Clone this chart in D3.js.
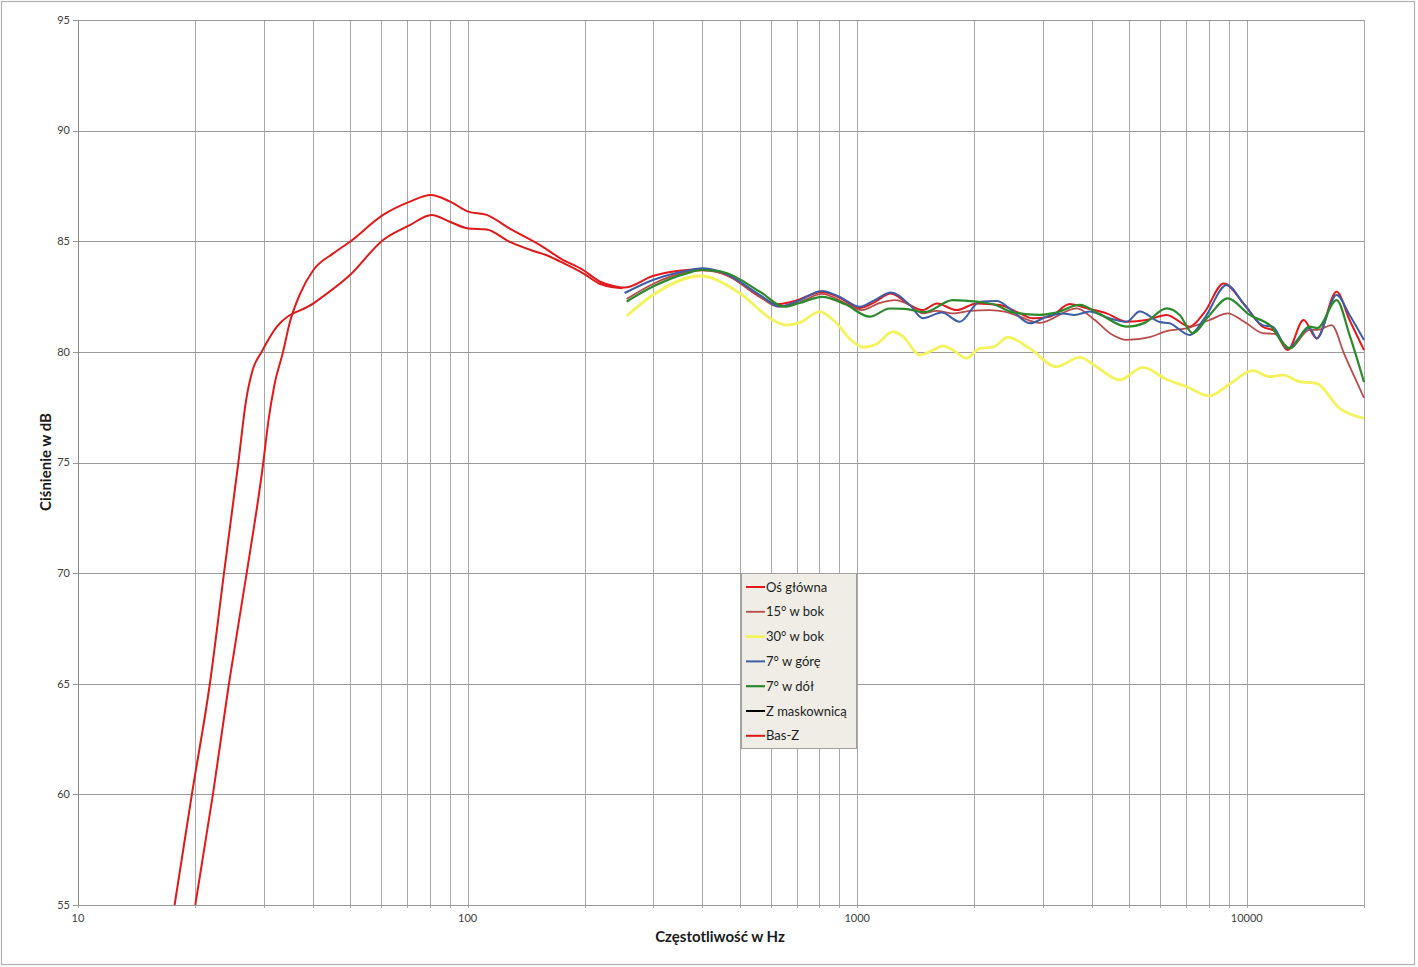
<!DOCTYPE html>
<html>
<head>
<meta charset="utf-8">
<script src="https://cdn.jsdelivr.net/npm/d3@7"></script>
<style>
  html, body { margin: 0; padding: 0; background: #fff; }
  text { font-family: Lato, "Open Sans", "DejaVu Sans", sans-serif; }
</style>
</head>
<body>
<script>
// ---------- DATA (frequency in Hz, level in dB) ----------
const xTickLabels = [10, 100, 1000, 10000];
const yTickLabels = [55, 60, 65, 70, 75, 80, 85, 90, 95];

const osGlowna = [
  [20.0,55],[22.2,60],[24.4,65],[27.1,70],[29.9,75],[30.8,76.86],[31.9,78.47],[33.6,80],
  [35.0,81.36],[37.2,82.64],[40.2,83.7],[45.2,84.45],[49.9,84.98],[60.7,86.19],[71.1,86.79],
  [80.4,87.09],[90.2,86.79],[100.4,86.34],[112,86.19],[128,85.58],[156,84.75],[173,84.23],
  [198,83.7],[219,83.17],[237,82.98],[253,82.91],
  [299,83.43],[365,83.70],[399,83.73],[471,83.40],[563,82.49],[626,82.16],[692,82.30],
  [812,82.71],[903,82.44],[1015,81.98],[1110,82.25],[1220,82.64],[1365,82.12],[1474,81.89],
  [1601,82.19],[1801,81.89],[2027,82.19],[2323,82.12],[2614,81.74],[2822,81.52],[3120,81.59],
  [3512,82.16],[3884,81.97],[4370,81.74],[4918,81.36],[5536,81.44],[6230,81.67],[7137,81.14],
  [7798,81.80],[8726,83.09],[9876,82.12],[10985,81.14],[11793,80.94],[12736,80.08],
  [13996,81.44],[15115,80.61],[17009,82.72],[18365,81.44],[20000,80.08]
];

const w15 = [
  [256,82.39],[299,83.07],[365,83.61],[399,83.68],[450,83.56],[563,82.48],[626,82.05],
  [712,82.25],[812,82.62],[930,82.21],[1027,81.89],[1143,82.21],[1249,82.34],[1365,82.12],
  [1474,81.74],[1601,81.85],[1759,81.74],[1945,81.85],[2189,81.89],[2393,81.82],[2614,81.59],
  [2942,81.31],[3660,81.97],[4072,81.44],[4529,80.76],[4918,80.54],[5634,80.67],[6230,80.94],
  [7137,81.10],[8031,81.44],[8934,81.74],[9876,81.35],[10985,80.85],[11793,80.81],
  [12889,80.16],[14501,80.99],[15203,80.99],[16513,81.21],[17832,79.86],[20000,77.92]
];

const w30 = [
  [256,81.62],[299,82.57],[395,83.43],[500,82.65],[608,81.44],[659,81.21],[712,81.32],
  [802,81.82],[868,81.44],[976,80.46],[1035,80.21],[1121,80.36],[1236,80.91],[1312,80.69],
  [1447,79.86],[1565,80.08],[1661,80.27],[1762,80.08],[1908,79.71],[2064,80.16],[2232,80.21],
  [2439,80.66],[2773,80.16],[3246,79.33],[3726,79.75],[4113,79.33],[4719,78.73],[5415,79.30],
  [6219,78.76],[6998,78.43],[8031,78.01],[9040,78.55],[10373,79.15],[11450,78.88],
  [12385,78.95],[13668,78.65],[15083,78.58],[17311,77.45],[20000,77.00]
];

const gora7 = [
  [253,82.66],[299,83.25],[365,83.67],[399,83.78],[450,83.61],[563,82.57],[633,82.05],
  [712,82.34],[812,82.75],[903,82.48],[1015,82.04],[1110,82.34],[1220,82.68],[1365,82.12],
  [1474,81.52],[1649,81.78],[1834,81.36],[2064,82.27],[2281,82.30],[2493,81.89],[2773,81.29],
  [3066,81.59],[3370,81.74],[3618,81.67],[3954,81.82],[4320,81.59],[4918,81.36],[5312,81.82],
  [5977,81.35],[6342,81.29],[7137,80.76],[7798,81.53],[8882,83.02],[9876,82.12],[10985,81.21],
  [11655,81.14],[12736,80.16],[14501,81.08],[15115,80.61],[17009,82.57],[18365,81.67],[20000,80.54]
];

const dol7 = [
  [256,82.27],[299,82.95],[365,83.55],[399,83.70],[450,83.62],[563,82.72],[652,82.04],
  [712,82.21],[812,82.49],[930,82.16],[1077,81.59],[1212,81.96],[1325,81.94],[1491,81.80],
  [1759,82.34],[2027,82.27],[2268,82.12],[2493,81.80],[2942,81.67],[3214,81.76],[3726,82.12],
  [4194,81.71],[4918,81.14],[5470,81.31],[6230,81.97],[6728,81.67],[7265,80.85],[8031,81.67],
  [8934,82.42],[10171,81.67],[11450,81.21],[12889,80.16],[14501,81.14],[15203,81.08],
  [17009,82.34],[18365,80.76],[20000,78.64]
];

const zMaskownica = [];

const basZ = [
  [17.7,55],[19.6,60],[21.8,65],[23.7,70],[25.8,75],[27.0,77.8],[28.1,79.2],[29.6,80],
  [32.4,81.14],[40.2,82.19],[49.9,83.47],[60.7,85.06],[71.1,85.73],[80.8,86.19],[90,85.88],
  [100.4,85.58],[112,85.53],[128,84.98],[147,84.57],[159,84.38],[173,84.08],[198,83.55],
  [219,83.07],[237,82.92],[250,82.87]
];

const seriesNames = ["Oś główna", "15° w bok", "30° w bok", "7° w górę", "7° w dół", "Z maskownicą", "Bas-Z"];
const seriesData = [osGlowna, w15, w30, gora7, dol7, zMaskownica, basZ];
const seriesColors = ["#e3191c", "#b84c4a", "#f4f35e", "#3d5ea6", "#2b8a2b", "#000000", "#dc1a1a"];
const seriesWidths = [2, 1.8, 2.8, 2, 2.2, 2, 2];

// ---------- CHART ----------
const W = 1418, H = 967;
const svg = d3.select("body").append("svg").attr("width", W).attr("height", H);

svg.append("rect").attr("x", 1.5).attr("y", 1.5).attr("width", 1413).attr("height", 963)
  .attr("fill", "#fff").attr("stroke", "#b0b0b0").attr("stroke-width", 1.2);

const x = d3.scaleLog().domain([10, 20000]).range([78, 1364]);
const y = d3.scaleLinear().domain([55, 95]).range([905, 20]);

const grid = svg.append("g");
// vertical grid lines at 1..9 x decade
grid.selectAll("line.v").data(x.ticks()).enter().append("line")
  .attr("x1", d => Math.round(x(d)) + 0.5).attr("x2", d => Math.round(x(d)) + 0.5)
  .attr("y1", y(95)).attr("y2", y(55) + 3)
  .attr("stroke", "#a8a8a8").attr("stroke-width", 1);
// horizontal grid lines
grid.selectAll("line.h").data(yTickLabels).enter().append("line")
  .attr("x1", x(10) - 5).attr("x2", x(20000))
  .attr("y1", d => Math.round(y(d)) + 0.5).attr("y2", d => Math.round(y(d)) + 0.5)
  .attr("stroke", "#9a9a9a").attr("stroke-width", 1);
// left axis line
grid.append("line").attr("x1", 78.5).attr("x2", 78.5).attr("y1", y(95)).attr("y2", y(55))
  .attr("stroke", "#8a8a8a");

// tick labels
svg.append("g").selectAll("text").data(yTickLabels).enter().append("text")
  .attr("x", 70).attr("y", d => y(d)).attr("dy", "0.35em")
  .attr("text-anchor", "end").attr("font-size", 11).attr("fill", "#404040")
  .text(d => d);
svg.append("g").selectAll("text").data(xTickLabels).enter().append("text")
  .attr("x", d => x(d)).attr("y", 922)
  .attr("text-anchor", "middle").attr("font-size", 11).attr("fill", "#404040")
  .text(d => d);

// axis titles
svg.append("text").attr("x", 720).attr("y", 942).attr("text-anchor", "middle")
  .attr("font-size", 15).attr("font-weight", "bold").attr("fill", "#1a1a1a")
  .text("Częstotliwość w Hz");
svg.append("text").attr("transform", "translate(51,462) rotate(-90)")
  .attr("text-anchor", "middle").attr("font-size", 15).attr("font-weight", "bold").attr("fill", "#1a1a1a")
  .text("Ciśnienie w dB");

// series
const line = d3.line().x(d => x(d[0])).y(d => y(d[1])).curve(d3.curveMonotoneX);
const plot = svg.append("g");
seriesData.forEach((data, i) => {
  if (!data.length) return;
  plot.append("path").datum(data).attr("d", line)
    .attr("fill", "none").attr("stroke", seriesColors[i])
    .attr("stroke-width", seriesWidths[i]).attr("stroke-linejoin", "round");
});

// legend
const lg = svg.append("g").attr("transform", "translate(741,573)");
lg.append("rect").attr("x", 0.5).attr("y", 0.5).attr("width", 115).attr("height", 175)
  .attr("fill", "#efede5").attr("stroke", "#a0a0a0");
seriesNames.forEach((name, i) => {
  const cy = 14 + i * 24.8;
  lg.append("line").attr("x1", 5).attr("x2", 24).attr("y1", cy).attr("y2", cy)
    .attr("stroke", seriesColors[i]).attr("stroke-width", seriesWidths[i]);
  lg.append("text").attr("x", 25).attr("y", cy).attr("dy", "0.35em")
    .attr("font-size", 13).attr("fill", "#1e1e1e").text(name);
});
</script>
</body>
</html>
